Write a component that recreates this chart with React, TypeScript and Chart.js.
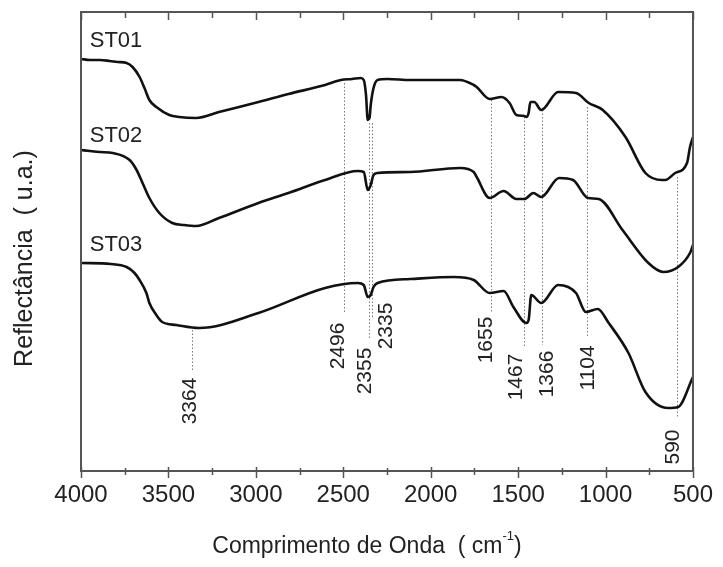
import React, { useEffect, useRef } from "react";
import { Chart, registerables } from "chart.js";

Chart.register(...registerables);

// Wavenumber (cm-1) and reflectance (arbitrary units) for each sample
const st01Wavenumbers = [4000, 3949, 3892, 3835, 3790, 3739, 3705, 3665, 3637, 3609, 3569, 3495, 3439, 3342, 3211, 2985, 2814, 2604, 2514, 2450, 2400, 2383, 2370, 2360, 2350, 2343, 2327, 2304, 2247, 2117, 1833, 1754, 1737, 1663, 1595, 1549, 1510, 1464, 1453, 1440, 1430, 1408, 1368, 1271, 1169, 1096, 1016, 886, 772, 676, 659, 602, 534, 517, 500];
const st01Values = [412, 411, 411, 410, 409, 408, 404, 394, 383, 371, 364, 356, 354, 353, 359, 369, 377, 386, 391, 392, 393, 391, 376, 351, 353, 366, 383, 391, 392, 391, 391, 386, 384, 372, 374, 368, 356, 355, 354, 358, 369, 369, 361, 379, 378, 368, 361, 334, 298, 291, 291, 298, 308, 324, 334];

const st02Wavenumbers = [4000, 3949, 3892, 3818, 3722, 3682, 3648, 3609, 3552, 3478, 3410, 3342, 3211, 2985, 2814, 2604, 2417, 2383, 2360, 2343, 2327, 2304, 2117, 1833, 1754, 1737, 1663, 1583, 1510, 1464, 1413, 1368, 1266, 1186, 1101, 1039, 903, 755, 670, 585, 517, 500];
const st02Values = [321, 320, 319, 318, 311, 301, 288, 273, 258, 248, 246, 245, 253, 268, 278, 291, 300, 299, 281, 286, 296, 298, 299, 303, 299, 294, 273, 280, 272, 272, 278, 274, 293, 291, 273, 272, 241, 208, 199, 204, 218, 226];

const st03Wavenumbers = [4000, 3830, 3739, 3694, 3665, 3626, 3609, 3569, 3535, 3455, 3325, 2985, 2604, 2417, 2383, 2360, 2343, 2327, 2304, 2117, 1867, 1754, 1663, 1583, 1527, 1453, 1440, 1425, 1368, 1271, 1169, 1113, 1045, 982, 869, 772, 642, 585, 500];
const st03Values = [208, 207, 204, 198, 191, 178, 168, 156, 149, 146, 143, 158, 183, 188, 186, 174, 176, 184, 188, 192, 194, 191, 178, 180, 164, 148, 151, 176, 168, 186, 178, 159, 162, 148, 118, 79, 63, 64, 94];

const seriesNames = ["ST01", "ST02", "ST03"];
const seriesLabelWavenumber = 3950;
const seriesLabelValues = [430, 335, 226];

// Marked bands: wavenumber, dotted line from / to (reflectance units), label centre
const peakWavenumbers = [3364, 2496, 2355, 2335, 1655, 1467, 1366, 1104, 590];
const peakLineFrom = [141, 388, 348, 348, 371, 354, 361, 364, 294];
const peakLineTo = [101, 158, 131, 153, 159, 124, 126, 133, 54];
const peakLabelValues = [70, 125, 100, 145, 131, 94, 97, 103, 24];
const peakLabelShift = [-3, -7, -4, 13, -6, -9, 5, 0, -5];

const xTickMin = 500;
const xTickMax = 4000;
const xTickStep = 250;
const xLabelStep = 500;

const FONT = "'Liberation Sans', Arial, Helvetica, sans-serif";
const TEXT = "#222";

function toPoints(xs: number[], ys: number[]) {
  return xs.map((x, i) => ({ x, y: ys[i] }));
}

const decorPlugin = {
  id: "decor",
  beforeDatasetsDraw(chart: any) {
    const { ctx, scales } = chart;
    const x = scales.x;
    const y = scales.y;
    ctx.save();
    ctx.strokeStyle = "#7a7a7a";
    ctx.lineWidth = 1;
    ctx.setLineDash([1.5, 2]);
    peakWavenumbers.forEach((w, i) => {
      const px = Math.round(x.getPixelForValue(w)) + 0.5;
      ctx.beginPath();
      ctx.moveTo(px, y.getPixelForValue(peakLineFrom[i]));
      ctx.lineTo(px, y.getPixelForValue(peakLineTo[i]));
      ctx.stroke();
    });
    ctx.restore();
  },
  afterDraw(chart: any) {
    const { ctx, chartArea, scales } = chart;
    const x = scales.x;
    const y = scales.y;
    const { left, right, top, bottom } = chartArea;
    ctx.save();
    // frame
    ctx.strokeStyle = "#555";
    ctx.lineWidth = 2;
    ctx.strokeRect(left, top, right - left, bottom - top);
    // tick marks
    ctx.lineWidth = 1.5;
    x.ticks.forEach((t: any) => {
      const v = t.value;
      const px = Math.round(x.getPixelForValue(v)) + 0.5;
      const major = v % xLabelStep === 0;
      ctx.beginPath();
      ctx.moveTo(px, top);
      ctx.lineTo(px, top + (major ? 8 : 6));
      ctx.moveTo(px, bottom - (major ? 4 : 3));
      ctx.lineTo(px, bottom + (major ? 7 : 4));
      ctx.stroke();
    });
    // series labels
    ctx.fillStyle = TEXT;
    ctx.font = `22px ${FONT}`;
    ctx.textAlign = "left";
    ctx.textBaseline = "middle";
    seriesNames.forEach((n, i) => {
      ctx.fillText(n, x.getPixelForValue(seriesLabelWavenumber), y.getPixelForValue(seriesLabelValues[i]));
    });
    // peak labels
    ctx.font = `21px ${FONT}`;
    ctx.textAlign = "center";
    peakWavenumbers.forEach((w, i) => {
      ctx.save();
      ctx.translate(x.getPixelForValue(w) + peakLabelShift[i], y.getPixelForValue(peakLabelValues[i]));
      ctx.rotate(-Math.PI / 2);
      ctx.fillText(String(w), 0, 1);
      ctx.restore();
    });
    // y title
    ctx.save();
    ctx.font = `25px ${FONT}`;
    ctx.translate(25, (top + bottom) / 2 + 17);
    ctx.rotate(-Math.PI / 2);
    ctx.textAlign = "center";
    ctx.fillText("Reflectância  ( u.a.)", 0, 0);
    ctx.restore();
    // x title with superscript
    const main = "Comprimento de Onda  ( cm";
    const sup = "-1";
    const tail = ")";
    ctx.font = `23px ${FONT}`;
    const wMain = ctx.measureText(main).width;
    const wTail = ctx.measureText(tail).width;
    ctx.font = `13px ${FONT}`;
    const wSup = ctx.measureText(sup).width;
    const total = wMain + wSup + wTail;
    const cx = (left + right) / 2 - 20;
    const ty = bottom + 74;
    let sx = cx - total / 2;
    ctx.textAlign = "left";
    ctx.textBaseline = "alphabetic";
    ctx.font = `23px ${FONT}`;
    ctx.fillText(main, sx, ty + 8);
    sx += wMain;
    ctx.font = `13px ${FONT}`;
    ctx.fillText(sup, sx, ty - 5);
    sx += wSup;
    ctx.font = `23px ${FONT}`;
    ctx.fillText(tail, sx, ty + 8);
    ctx.restore();
  },
};

export default function App() {
  const canvasRef = useRef<HTMLCanvasElement | null>(null);

  useEffect(() => {
    document.body.style.margin = "0";
    const canvas = canvasRef.current;
    if (!canvas) return;
    const lineStyle = {
      borderColor: "#111",
      borderWidth: 2.6,
      pointRadius: 0,
      fill: false,
      cubicInterpolationMode: "monotone" as const,
    };
    const chart = new Chart(canvas, {
      type: "line",
      data: {
        datasets: [
          { label: seriesNames[0], data: toPoints(st01Wavenumbers, st01Values), ...lineStyle },
          { label: seriesNames[1], data: toPoints(st02Wavenumbers, st02Values), ...lineStyle },
          { label: seriesNames[2], data: toPoints(st03Wavenumbers, st03Values), ...lineStyle },
        ],
      },
      options: {
        animation: false,
        responsive: false,
        devicePixelRatio: 1,
        layout: { padding: { left: 0, right: 25, top: 12, bottom: 0 } },
        plugins: { legend: { display: false }, tooltip: { enabled: false } },
        scales: {
          x: {
            type: "linear",
            reverse: true,
            min: xTickMin,
            max: xTickMax,
            grid: { display: false, drawTicks: false },
            border: { display: false },
            ticks: {
              stepSize: xTickStep,
              autoSkip: false,
              maxRotation: 0,
              padding: 10,
              color: TEXT,
              font: { size: 24, family: FONT },
              callback: (v: any) => (Number(v) % xLabelStep === 0 ? String(v) : ""),
            },
            afterFit: (s: any) => {
              s.height = 96;
            },
          },
          y: {
            type: "linear",
            min: 0,
            max: 459,
            grid: { display: false, drawTicks: false },
            border: { display: false },
            ticks: { display: false },
            afterFit: (s: any) => {
              s.width = 81;
            },
          },
        },
      },
      plugins: [decorPlugin],
    });
    return () => chart.destroy();
  }, []);

  return (
    <div style={{ position: "absolute", left: 0, top: 0, width: 723, height: 567, background: "#fff" }}>
      <canvas ref={canvasRef} width={723} height={567} />
    </div>
  );
}
